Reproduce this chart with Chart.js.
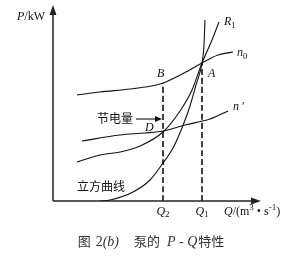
<!DOCTYPE html>
<html><head><meta charset="utf-8">
<script src="https://cdn.jsdelivr.net/npm/chart.js@4"></script>
<style>html,body{margin:0;padding:0;background:#fff}canvas{display:block}</style>
</head><body>
<canvas id="c" width="303" height="258"></canvas>
<script>
// Flow (Q) and power (P) values (arbitrary units)
const n0Q = [24, 47, 77, 98, 110, 131, 149, 165, 180];
const n0P = [106, 109, 112, 115, 118, 128, 138, 146, 149];
const nPrimeQ = [29, 67, 92, 110, 132, 157, 175];
const nPrimeP = [60, 66, 68, 70, 76, 82, 90];
const r1Q = [24, 47, 67, 87, 110, 127, 139, 149, 159, 166];
const r1P = [39, 46, 49, 55, 69, 90, 111, 138, 161, 179];
const cubicQ = [47, 57, 80, 97, 110, 120, 129, 137, 143, 149, 151, 152];
const cubicP = [0, 1, 9, 21, 38, 53, 73, 95, 116, 138, 156, 181];
const pointNames = ['A', 'B', 'D'];
const pointQ = [149, 110, 110];
const pointP = [138, 118, 70];
const tickQ = [110, 149];
const tickNames = ['2', '1']; // subscripts of Q
const Q_MAX = 208, P_MAX = 196;

const pts = (xs, ys) => xs.map((x, i) => ({x, y: ys[i]}));
const line = (data, extra) => Object.assign({data, showLine: true, borderColor: '#111', borderWidth: 1.1,
  pointRadius: 0, tension: 0.4, cubicInterpolationMode: 'monotone', fill: false}, extra || {});

const SERIF = '"Liberation Serif","DejaVu Serif",serif';
const CJK = '"Noto Sans CJK SC","Noto Sans CJK JP",sans-serif';

function runs(ctx, x, y, parts) {
  let cx = x;
  ctx.textBaseline = 'alphabetic';
  ctx.textAlign = 'left';
  for (const [t, f, dy, gap] of parts) {
    ctx.font = f;
    ctx.fillText(t, cx, y + (dy || 0));
    cx += ctx.measureText(t).width + (gap || 0);
  }
  return cx - x;
}
function runsWidth(ctx, parts) {
  let w = 0;
  for (const [t, f, dy, gap] of parts) { ctx.font = f; w += ctx.measureText(t).width + (gap || 0); }
  return w;
}

const deco = {
  id: 'deco',
  afterDraw(chart) {
    const ctx = chart.ctx, xs = chart.scales.x, ys = chart.scales.y;
    const x0 = xs.getPixelForValue(0), y0 = ys.getPixelForValue(0);
    const xEnd = xs.getPixelForValue(Q_MAX), yEnd = ys.getPixelForValue(P_MAX);
    ctx.save();
    ctx.strokeStyle = '#222'; ctx.fillStyle = '#222'; ctx.lineWidth = 1.5;
    ctx.beginPath(); ctx.moveTo(x0, y0); ctx.lineTo(x0, yEnd + 6); ctx.stroke();
    ctx.beginPath(); ctx.moveTo(x0, y0); ctx.lineTo(xEnd - 6, y0); ctx.stroke();
    ctx.beginPath(); ctx.moveTo(x0, yEnd); ctx.lineTo(x0 - 3.5, yEnd + 10); ctx.lineTo(x0 + 3.5, yEnd + 10); ctx.closePath(); ctx.fill();
    ctx.beginPath(); ctx.moveTo(xEnd, y0); ctx.lineTo(xEnd - 10, y0 - 3.5); ctx.lineTo(xEnd - 10, y0 + 3.5); ctx.closePath(); ctx.fill();

    ctx.fillStyle = '#111';
    const it = 'italic 12px ' + SERIF, rm = '12px ' + SERIF, sub = '9px ' + SERIF;
    // axis labels
    runs(ctx, 17, 20, [['P', it], ['/kW', rm]]);
    runs(ctx, 224, 215, [['Q', it], ['/(m', rm], ['3', sub, -5], [' \u2022 s', rm], ['-1', sub, -5], [')', rm]]);
    // ticks
    tickQ.forEach((q, i) => {
      const parts = [['Q', it], [tickNames[i], sub, 2]];
      const w = runsWidth(ctx, parts);
      runs(ctx, xs.getPixelForValue(q) - w / 2, 215, parts);
    });
    // point labels
    const off = {A: [6, 14], B: [-6, -6], D: [-18, 0]};
    pointNames.forEach((n, i) => {
      const px = xs.getPixelForValue(pointQ[i]), py = ys.getPixelForValue(pointP[i]);
      runs(ctx, px + off[n][0], py + off[n][1], [[n, it]]);
    });
    // curve labels
    runs(ctx, 224, 25, [['R', it], ['1', sub, 3]]);
    runs(ctx, 237, 56, [['n', it], ['0', sub, 3]]);
    runs(ctx, 233, 110, [['n', it], [' \u2032', rm]]);
    ctx.font = '12px ' + CJK; ctx.textBaseline = 'middle';
    ctx.fillText('节电量', 97, 118);
    ctx.fillText('立方曲线', 77, 186);
    // arrow for 节电量
    const ax = xs.getPixelForValue(pointQ[1]);
    ctx.lineWidth = 1.2;
    ctx.beginPath(); ctx.moveTo(136, 119); ctx.lineTo(ax - 5, 119); ctx.stroke();
    ctx.beginPath(); ctx.moveTo(ax - 1, 119); ctx.lineTo(ax - 8, 116); ctx.lineTo(ax - 8, 122); ctx.closePath(); ctx.fill();
    // caption
    ctx.fillStyle = '#333';
    const cj = '13px ' + CJK, sr = '14px ' + SERIF, si = 'italic 14px ' + SERIF;
    const cap = [['图', cj, 0, 5], ['2', sr], ['(', si], ['b', si], [')', si, 0, 15],
      ['泵的', cj, 0, 7], ['P', si], [' - ', sr], ['Q', si, 0, 1], ['特性', cj]];
    const cw = runsWidth(ctx, cap);
    runs(ctx, 151 - cw / 2, 246, cap);
    ctx.restore();
  }
};

new Chart(document.getElementById('c'), {
  type: 'scatter',
  data: {
    datasets: [
      line(pts(n0Q, n0P)),
      line(pts(nPrimeQ, nPrimeP)),
      line(pts(r1Q, r1P)),
      line(pts(cubicQ, cubicP)),
      line([{x: pointQ[0], y: 0}, {x: pointQ[0], y: pointP[0]}], {borderDash: [6, 3], borderWidth: 1.6, tension: 0}),
      line([{x: pointQ[1], y: 0}, {x: pointQ[1], y: pointP[1]}], {borderDash: [6, 3], borderWidth: 1.6, tension: 0})
    ]
  },
  options: {
    responsive: false, animation: false, devicePixelRatio: 1,
    layout: {padding: {left: 53, right: 42, top: 5, bottom: 57}},
    scales: {
      x: {type: 'linear', min: 0, max: Q_MAX, display: false},
      y: {type: 'linear', min: 0, max: P_MAX, display: false}
    },
    plugins: {legend: {display: false}, tooltip: {enabled: false}}
  },
  plugins: [deco]
});
</script>
</body></html>
